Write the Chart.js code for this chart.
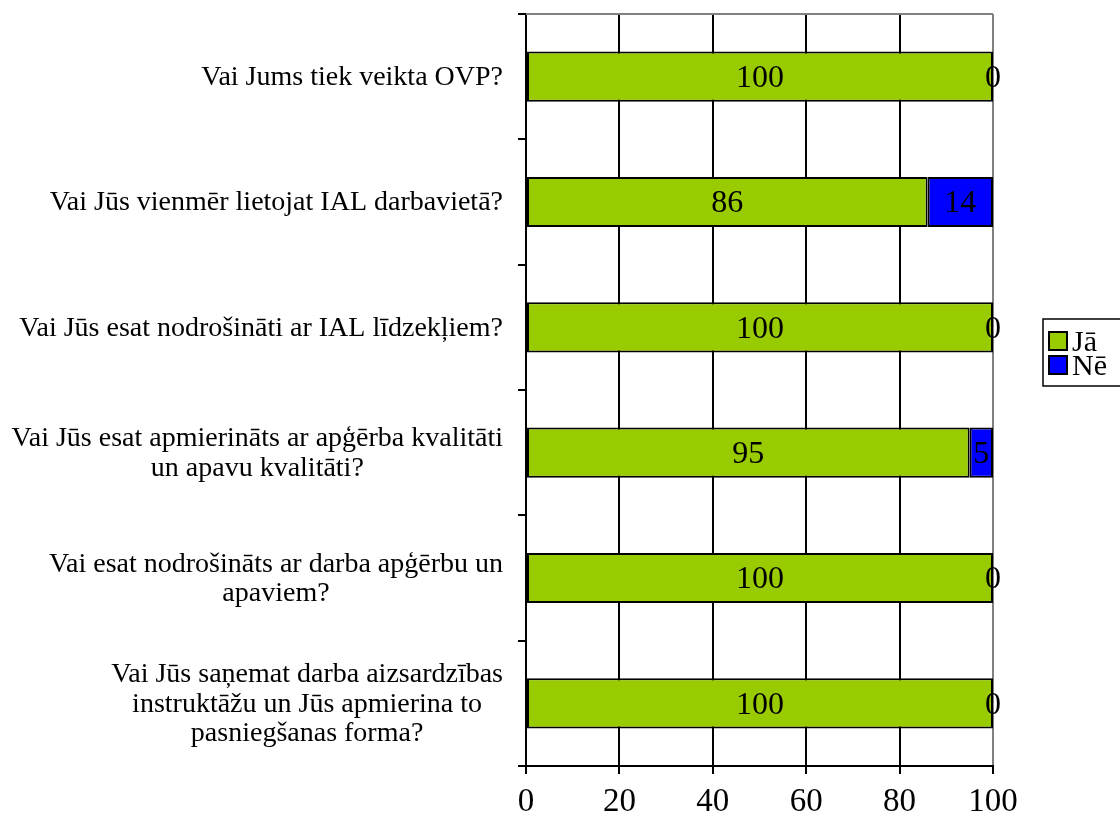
<!DOCTYPE html>
<html><head><meta charset="utf-8">
<script src="https://cdn.jsdelivr.net/npm/chart.js@4"></script>
<style>html,body{margin:0;padding:0;background:#fff}canvas{display:block}</style>
</head><body>
<canvas id="c" width="1120" height="825"></canvas>
<script>
const categories = [
  ["Vai Jums tiek veikta OVP?"],
  ["Vai Jūs vienmēr lietojat IAL darbavietā?"],
  ["Vai Jūs esat nodrošināti ar IAL līdzekļiem?"],
  ["Vai Jūs esat apmierināts ar apģērba kvalitāti", "un apavu kvalitāti?"],
  ["Vai esat nodrošināts ar darba apģērbu un", "apaviem?"],
  ["Vai Jūs saņemat darba aizsardzības", "instruktāžu un Jūs apmierina to", "pasniegšanas forma?"]
];
const seriesNames = ["Jā", "Nē"];
const jaValues = [100, 86, 100, 95, 100, 100];
const neValues = [0, 14, 0, 5, 0, 0];
const xTicks = [0, 20, 40, 60, 80, 100];
const seriesColors = ["#99CC00", "#0000FF"];

const FONT = '"Liberation Serif", "Times New Roman", serif';
Chart.defaults.font.family = FONT;
Chart.defaults.color = '#000';

const yLabelPlugin = {
  id: 'ylabels',
  afterDraw(chart) {
    const ctx = chart.ctx, ys = chart.scales.y;
    ctx.save();
    ctx.font = '28px ' + FONT;
    ctx.fillStyle = '#000';
    ctx.textAlign = 'center';
    ctx.textBaseline = 'middle';
    const rightEdge = ys.right - 23;
    chart.data.labels.forEach((lab, i) => {
      const lines = Array.isArray(lab) ? lab : [lab];
      const w = Math.max(...lines.map(l => ctx.measureText(l).width));
      const cx = rightEdge - w / 2;
      const cy = ys.getPixelForValue(i) + 1;
      const lh = 29.5;
      lines.forEach((l, j) => ctx.fillText(l, cx, cy + (j - (lines.length - 1) / 2) * lh));
    });
    ctx.restore();
  }
};

const frameAndLabels = {
  id: 'frameAndLabels',
  beforeDatasetsDraw(chart) {
    const ctx = chart.ctx, a = chart.chartArea;
    ctx.save();
    ctx.strokeStyle = '#808080';
    ctx.lineWidth = 2;
    ctx.beginPath();
    ctx.moveTo(a.left, a.top);
    ctx.lineTo(a.right, a.top);
    ctx.stroke();
    ctx.restore();
  },
  afterDatasetsDraw(chart) {
    const ctx = chart.ctx;
    ctx.save();
    ctx.font = '32px ' + FONT;
    ctx.fillStyle = '#000';
    ctx.textAlign = 'center';
    ctx.textBaseline = 'middle';
    chart.data.datasets.forEach((ds, di) => {
      const meta = chart.getDatasetMeta(di);
      meta.data.forEach((el, i) => {
        const cx = (el.x + el.base) / 2;
        ctx.fillText(String(ds.data[i]), cx, el.y + 2);
      });
    });
    ctx.restore();
  }
};

const legendPlugin = {
  id: 'customLegend',
  afterDraw(chart) {
    const ctx = chart.ctx;
    ctx.save();
    const bx = 1043, by = 319, bh = 67;
    ctx.strokeStyle = '#000';
    ctx.lineWidth = 1.5;
    ctx.strokeRect(bx, by, 200, bh);
    ctx.font = '30px ' + FONT;
    ctx.textBaseline = 'middle';
    ctx.textAlign = 'left';
    chart.data.datasets.forEach((ds, i) => {
      const y = by + 22 + i * 24;
      ctx.fillStyle = ds.backgroundColor;
      ctx.fillRect(bx + 6, y - 9, 18, 18);
      ctx.lineWidth = 2;
      ctx.strokeStyle = '#000';
      ctx.strokeRect(bx + 6, y - 9, 18, 18);
      ctx.fillStyle = '#000';
      ctx.fillText(ds.label, bx + 29, y + 2);
    });
    ctx.restore();
  }
};

new Chart(document.getElementById('c'), {
  type: 'bar',
  data: {
    labels: categories,
    datasets: seriesNames.map((name, i) => ({
      label: name,
      data: i === 0 ? jaValues : neValues,
      backgroundColor: seriesColors[i],
      borderColor: '#000',
      borderWidth: 2,
      borderSkipped: false,
      barPercentage: 0.4,
      categoryPercentage: 1
    }))
  },
  options: {
    indexAxis: 'y',
    responsive: false,
    animation: false,
    devicePixelRatio: 1,
    layout: { padding: { top: 14, right: 127, bottom: 0, left: 0 } },
    plugins: { legend: { display: false }, tooltip: { enabled: false } },
    scales: {
      x: {
        stacked: true,
        min: 0, max: 100,
        afterBuildTicks(s) { s.ticks = xTicks.map(v => ({ value: v })); },
        ticks: { font: { size: 33 }, color: '#000', padding: 9, maxRotation: 0, autoSkip: false },
        grid: {
          color: c => (c.tick && c.tick.value === 100) ? '#808080' : '#000',
          lineWidth: 2, tickLength: 8, tickColor: '#000'
        },
        border: { color: '#000', width: 2 },
        afterFit(s) { s.height = 59; }
      },
      y: {
        stacked: true,
        ticks: { display: false },
        grid: { drawOnChartArea: false, tickLength: 8, color: '#000', lineWidth: 2, offset: true },
        border: { color: '#000', width: 2 },
        afterFit(s) { s.width = 526; }
      }
    }
  },
  plugins: [yLabelPlugin, frameAndLabels, legendPlugin]
});
</script>
</body></html>
